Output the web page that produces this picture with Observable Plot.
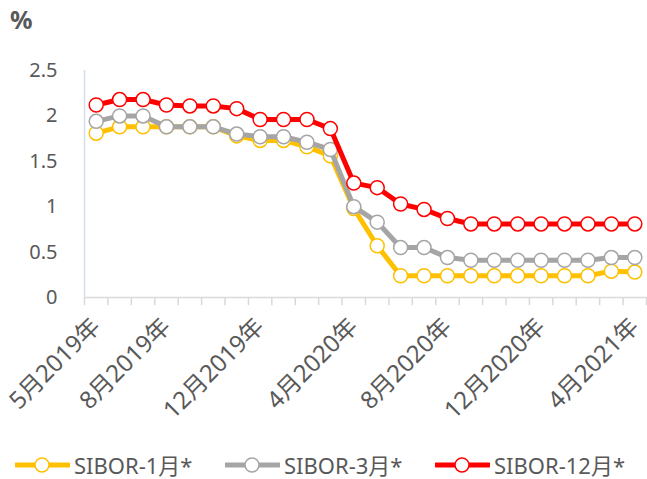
<!DOCTYPE html>
<html>
<head>
<meta charset="utf-8">
<script src="https://cdn.jsdelivr.net/npm/d3@7"></script>
<script src="https://cdn.jsdelivr.net/npm/@observablehq/plot@0.6"></script>
<style>
  body { margin: 0; background: #fff; font-family: "Noto Sans", "Noto Sans CJK SC", sans-serif; }
  #wrap { position: relative; width: 647px; height: 479px; overflow: hidden; }
  #unit { position: absolute; left: 10px; top: 2px; font-size: 25px; font-weight: bold; color: #595959; }
  #chart { position: absolute; left: 0; top: 0; }
  #legend { position: absolute; left: 15px; top: 452px; display: flex; color: #595959; font-size: 22px; line-height: 26px; }
  .item { display: flex; align-items: center; width: 210px; }
  .item svg { margin-right: 4px; }
</style>
</head>
<body>
<div id="wrap">
  <div id="chart"></div>
  <div id="unit">%</div>
  <div id="legend"></div>
</div>
<script>
const months = ["5月2019年","6月2019年","7月2019年","8月2019年","9月2019年","10月2019年","11月2019年","12月2019年",
  "1月2020年","2月2020年","3月2020年","4月2020年","5月2020年","6月2020年","7月2020年","8月2020年",
  "9月2020年","10月2020年","11月2020年","12月2020年","1月2021年","2月2021年","3月2021年","4月2021年"];
const tickIndices = [0, 3, 7, 11, 15, 19, 23];
const yTicks = [0, 0.5, 1, 1.5, 2, 2.5];
const seriesNames = ["SIBOR-1月*", "SIBOR-3月*", "SIBOR-12月*"];
const seriesColors = ["#ffc000", "#a5a5a5", "#ff0000"];
const sibor1m = [1.81,1.88,1.88,1.88,1.88,1.88,1.78,1.73,1.73,1.66,1.56,0.98,0.57,0.24,0.24,0.24,0.24,0.24,0.24,0.24,0.24,0.24,0.29,0.28];
const sibor3m = [1.94,2.00,2.00,1.88,1.88,1.88,1.80,1.77,1.77,1.71,1.63,1.00,0.83,0.55,0.55,0.44,0.41,0.41,0.41,0.41,0.41,0.41,0.44,0.44];
const sibor12m = [2.12,2.18,2.18,2.12,2.11,2.11,2.08,1.96,1.96,1.96,1.86,1.26,1.21,1.03,0.97,0.87,0.81,0.81,0.81,0.81,0.81,0.81,0.81,0.81];

const seriesValues = [sibor1m, sibor3m, sibor12m];
const rows = seriesNames.map((name, s) => seriesValues[s].map((v, i) => ({name, i, month: months[i], v})));
const boundaries = d3.range(months.length + 1).map(k => k - 0.5);

const seriesMarks = rows.flatMap((data, s) => [
  Plot.line(data, {x: "i", y: "v", stroke: seriesColors[s], strokeWidth: 5, strokeLinejoin: "round"}),
  Plot.dot(data, {x: "i", y: "v", r: 7, fill: "white", stroke: seriesColors[s], strokeWidth: 1.5})
]);

const chart = Plot.plot({
  width: 647,
  height: 440,
  marginTop: 70,
  marginBottom: 143,
  marginLeft: 84,
  marginRight: 1,
  style: {fontFamily: '"Noto Sans", "Noto Sans CJK SC", sans-serif', fontSize: "20px", color: "#595959", background: "transparent", overflow: "visible"},
  x: {type: "linear", domain: [-0.5, months.length - 0.5], axis: null},
  y: {domain: [0, 2.5], ticks: yTicks, tickFormat: d => String(d), tickSize: 0, tickPadding: 27, label: null},
  marks: [
    Plot.ruleY([0], {stroke: "#d9d9d9", strokeWidth: 1.5}),
    Plot.ruleX(boundaries, {y1: 0, y2: -0.09, stroke: "#d9d9d9", strokeWidth: 1.5}),
    Plot.ruleX([-0.5], {y1: 0, y2: 2.5, stroke: "#d6dff0", strokeWidth: 1.5}),
    ...seriesMarks,
    Plot.text(tickIndices, {x: d => d, y: () => 0, text: d => months[d], rotate: -45, textAnchor: "end", dx: 0, dy: 25, fill: "#595959", fontSize: 24})
  ]
});
document.getElementById("chart").appendChild(chart);

const legend = document.getElementById("legend");
seriesNames.forEach((name, s) => {
  const item = document.createElement("div");
  item.className = "item";
  item.innerHTML = `<svg width="55" height="20"><line x1="1" x2="54" y1="10" y2="10" stroke="${seriesColors[s]}" stroke-width="5" stroke-linecap="round"/><circle cx="27" cy="10" r="7" fill="white" stroke="${seriesColors[s]}" stroke-width="1.5"/></svg><span>${name}</span>`;
  legend.appendChild(item);
});
</script>
</body>
</html>
